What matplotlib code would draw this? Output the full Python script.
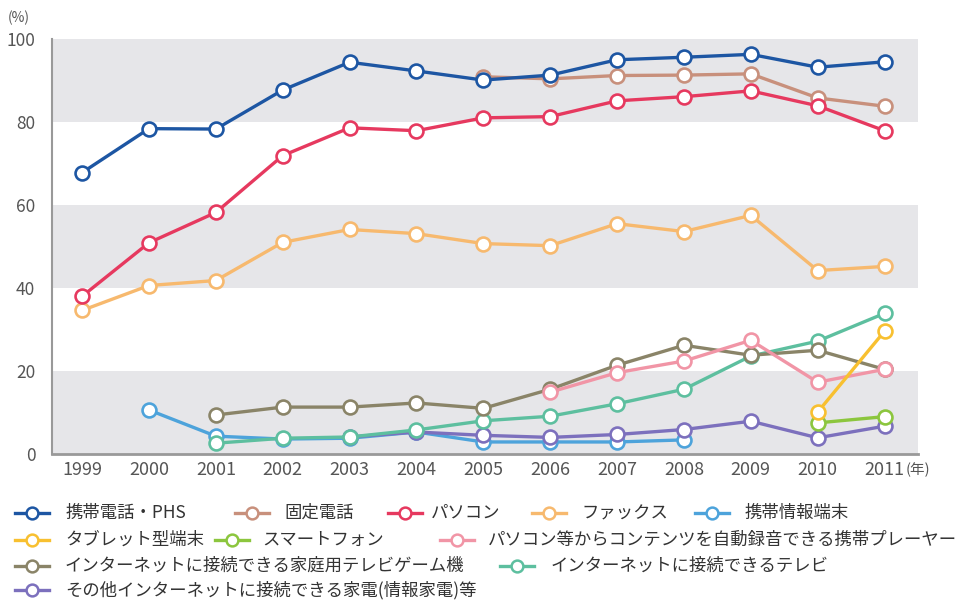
import matplotlib
matplotlib.use("Agg")
import matplotlib.pyplot as plt
from matplotlib.lines import Line2D
from matplotlib.transforms import offset_copy
import numpy as np

plt.rcParams['font.family'] = ['Noto Sans CJK JP', 'DejaVu Sans']

years = list(range(1999, 2012))
year_labels = [str(y) for y in years]
year_unit = '(年)'

mobile = [67.8, 78.4, 78.3, 87.7, 94.4, 92.3, 90.1, 91.3, 95.0, 95.6, 96.3, 93.2, 94.5]
fixed = [None, None, None, None, None, None, 90.9, 90.4, 91.2, 91.3, 91.6, 85.8, 83.8]
pc = [38.0, 50.9, 58.2, 71.9, 78.6, 77.9, 81.0, 81.3, 85.1, 86.1, 87.5, 83.9, 77.9]
fax = [34.6, 40.6, 41.8, 51.0, 54.1, 53.1, 50.7, 50.2, 55.5, 53.6, 57.5, 44.2, 45.2]
pda = [None, 10.6, 4.3, 3.6, 3.8, 5.3, 2.9, 2.9, 2.9, 3.4, None, None, None]
tablet = [None, None, None, None, None, None, None, None, None, None, None, 10.1, 29.6]
smartphone = [None, None, None, None, None, None, None, None, None, None, None, 7.5, 9.0]
player = [None, None, None, None, None, None, None, 14.9, 19.6, 22.4, 27.4, 17.3, 20.4]
game = [None, None, 9.4, 11.3, 11.3, 12.3, 11.0, 15.6, 21.4, 26.2, 23.8, 25.0, 20.4]
itv = [None, None, 2.6, 3.8, 4.1, 5.8, 8.0, 9.1, 12.1, 15.6, 23.6, 27.2, 33.9]
other = [None, None, None, None, 4.1, 5.3, 4.5, 4.0, 4.7, 5.9, 7.9, 3.9, 6.7]

names = ['携帯電話・PHS', '固定電話', 'パソコン', 'ファックス', '携帯情報端末',
         'タブレット型端末', 'スマートフォン', 'パソコン等からコンテンツを自動録音できる携帯プレーヤー',
         'インターネットに接続できる家庭用テレビゲーム機', 'インターネットに接続できるテレビ',
         'その他インターネットに接続できる家電(情報家電)等']
series = [mobile, fixed, pc, fax, pda, tablet, smartphone, player, game, itv, other]
colors = ['#1d56a3', '#c8907c', '#e6395f', '#f7b96e', '#4da3db',
          '#f8c030', '#8cc63e', '#f195a6', '#8a8468', '#5dbf9f', '#7c70bd']

fig = plt.figure(figsize=(9.8, 6.0), dpi=100)
ax = fig.add_axes([52/980, 1 - 454/600, (918-52)/980, (454-39)/600])

ax.set_xlim(1998.55, 2011.5)
ax.set_ylim(0, 100)
for lo in (0, 40, 80):
    ax.axhspan(lo, lo + 20, color='#e6e6e9', zorder=0, lw=0)

order = [4, 10, 9, 8, 7, 6, 5, 3, 1, 2, 0]
for k, i in enumerate(order):
    vals = np.array([np.nan if v is None else v for v in series[i]], dtype=float)
    ax.plot(years, vals, color=colors[i], lw=2.4, marker='o', markersize=10,
            markerfacecolor='white', markeredgecolor=colors[i], markeredgewidth=1.9,
            zorder=3 + k * 0.1)

for s in ['top', 'right']:
    ax.spines[s].set_visible(False)
ax.spines['left'].set_color('#999999')
ax.spines['bottom'].set_color('#999999')
ax.spines['left'].set_linewidth(1.5)
ax.spines['bottom'].set_linewidth(2)

ax.set_yticks([0, 20, 40, 60, 80, 100])
ax.set_yticklabels(['0', '20', '40', '60', '80', '100'])
ax.set_xticks(years)
ax.set_xticklabels(year_labels)
ax.tick_params(axis='y', length=0, labelsize=12.5, labelcolor='#555555', pad=12)
ax.tick_params(axis='x', length=0, labelsize=13, labelcolor='#555555', pad=5)

# "(年)" unit after last year label
tr = offset_copy(ax.get_xaxis_transform(), fig=fig, x=15, y=0, units='points')
ax.text(years[-1], -0.039, year_unit, transform=tr, fontsize=10.5, color='#555555',
        ha='left', va='center')

fig.text(8/980, 1 - 18/600, '(%)', fontsize=10, color='#555555', va='center', ha='left')

# manual legend: (series index, row, handle x, text x) in pixels
rows = [513, 540, 566, 590]
items = [
    (0, 0, 15, 65), (1, 0, 235, 284), (2, 0, 388, 431), (3, 0, 532, 581), (4, 0, 695, 744),
    (5, 1, 15, 65), (6, 1, 215, 262), (7, 1, 440, 488),
    (8, 2, 15, 65), (9, 2, 500, 551),
    (10, 3, 15, 65),
]
for idx, r, hx, tx in items:
    y = 1 - rows[r] / 600
    x0 = hx / 980
    x1 = (hx + 34) / 980
    fig.add_artist(Line2D([x0, x1], [y, y], transform=fig.transFigure, color=colors[idx], lw=2.4))
    fig.add_artist(Line2D([(x0 + x1) / 2], [y], transform=fig.transFigure, marker='o', markersize=8.5,
                          markerfacecolor='white', markeredgecolor=colors[idx], markeredgewidth=1.8))
    fig.text(tx / 980, y, names[idx], fontsize=12.5, color='#333333', va='center', ha='left')

fig.savefig('out.png', dpi=100)
